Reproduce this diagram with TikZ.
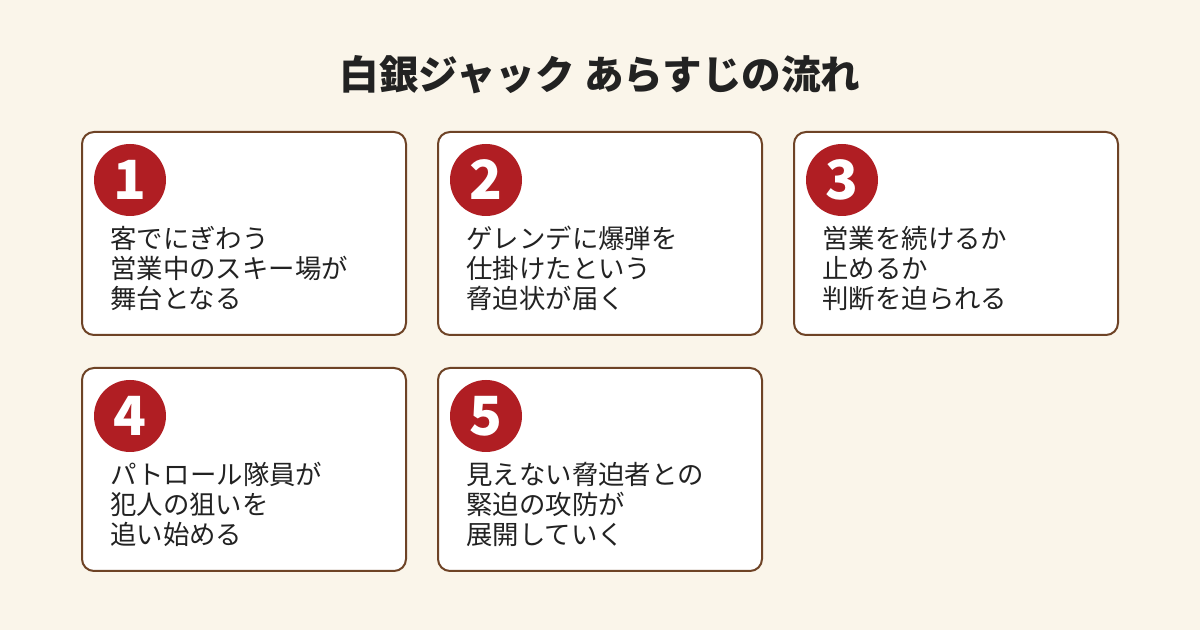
\documentclass[tikz,border=0pt]{standalone}
\usepackage{fontspec}
\setmainfont{Noto Sans CJK JP}
\usetikzlibrary{positioning}
\definecolor{bg}{HTML}{FAF5EA}
\definecolor{frame}{HTML}{6E4326}
\definecolor{badge}{HTML}{B01E23}
\definecolor{ink}{HTML}{222222}

\begin{document}
\begin{tikzpicture}[x=0.5pt,y=-0.5pt,
    card/.style={rectangle, rounded corners=6pt, minimum width=162pt, minimum height=101.5pt, draw=frame, line width=1pt, fill=white, anchor=north west},
    num/.style={circle, fill=badge, minimum size=36pt, inner sep=0pt, text=white, font=\fontsize{27}{27}\selectfont\bfseries},
    story/.style={anchor=north west, align=left, text=ink, inner sep=0pt, font=\fontsize{13.2}{15}\selectfont}
]
\fill[bg] (0,0) rectangle (1200,630);
\useasboundingbox (0,0) rectangle (1200,630);

% Title
\node[text=ink, font=\fontsize{19.8}{19.8}\selectfont\bfseries] (title) at (600,75) {白銀ジャック あらすじの流れ};

% Cards
\node[card] (card1) at (81,131) {};
\node[card] (card2) at (437,131) {};
\node[card] (card3) at (793,131) {};
\node[card] (card4) at (81,367) {};
\node[card] (card5) at (437,367) {};

% Badges
\node[num] (num1) at (130,180) {1};
\node[num] (num2) at (486,180) {2};
\node[num] (num3) at (842,180) {3};
\node[num] (num4) at (130,416) {4};
\node[num] (num5) at (486,416) {5};

% Texts
\node[story] (text1) at (110,226) {客でにぎわう\\営業中のスキー場が\\舞台となる};
\node[story] (text2) at (466,226) {ゲレンデに爆弾を\\仕掛けたという\\脅迫状が届く};
\node[story] (text3) at (822,226) {営業を続けるか\\止めるか\\判断を迫られる};
\node[story] (text4) at (110,462) {パトロール隊員が\\犯人の狙いを\\追い始める};
\node[story] (text5) at (466,462) {見えない脅迫者との\\緊迫の攻防が\\展開していく};

\end{tikzpicture}
\end{document}
